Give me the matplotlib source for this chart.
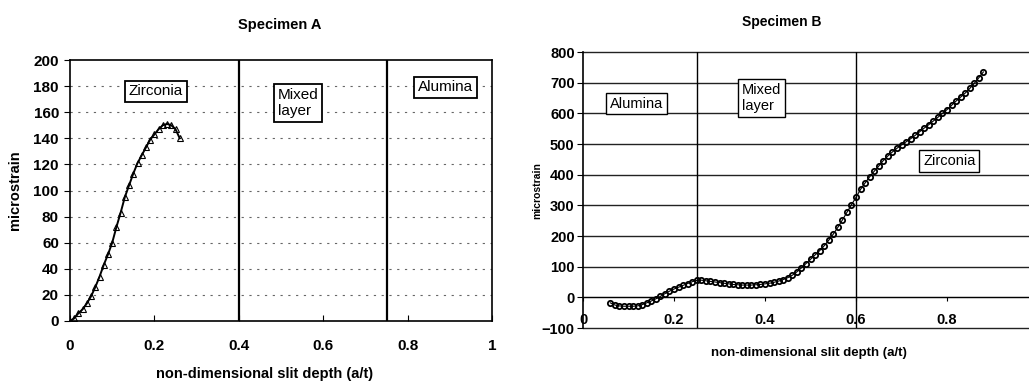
import matplotlib
matplotlib.use("Agg")
import matplotlib.pyplot as plt

plt.rcParams['font.family'] = ['Liberation Sans', 'DejaVu Sans']

# Specimen A: slit depth vs microstrain
depth_a = [0.00, 0.01, 0.02, 0.03, 0.04, 0.05, 0.06, 0.07, 0.08, 0.09, 0.10,
           0.11, 0.12, 0.13, 0.14, 0.15, 0.16, 0.17, 0.18, 0.19, 0.20, 0.21,
           0.22, 0.23, 0.24, 0.25, 0.26]
strain_a = [0, 2, 6, 9, 13.5, 19, 26, 34, 43, 51, 60, 72, 83, 95, 104, 113,
            121, 127, 133, 139, 143, 147, 150, 151, 150, 147, 140]

# Specimen B
depth_b = [0.06, 0.07, 0.08, 0.09, 0.10, 0.11, 0.12, 0.13, 0.14, 0.15, 0.16,
           0.17, 0.18, 0.19, 0.20, 0.21, 0.22, 0.23, 0.24, 0.25, 0.26, 0.27,
           0.28, 0.29, 0.30, 0.31, 0.32, 0.33, 0.34, 0.35, 0.36, 0.37, 0.38,
           0.39, 0.40, 0.41, 0.42, 0.43, 0.44, 0.45, 0.46, 0.47, 0.48, 0.49,
           0.50, 0.51, 0.52, 0.53, 0.54, 0.55, 0.56, 0.57, 0.58, 0.59, 0.60,
           0.61, 0.62, 0.63, 0.64, 0.65, 0.66, 0.67, 0.68, 0.69, 0.70, 0.71,
           0.72, 0.73, 0.74, 0.75, 0.76, 0.77, 0.78, 0.79, 0.80, 0.81, 0.82,
           0.83, 0.84, 0.85, 0.86, 0.87, 0.88]
strain_b = [-18, -25, -28, -29, -29, -29, -28, -24, -18, -12, -5,
            3, 12, 20, 27, 33, 39, 45, 51, 55, 56, 54,
            52, 50, 48, 46, 44, 42, 41, 40, 40, 40, 41,
            42, 44, 46, 49, 53, 58, 64, 72, 83, 96, 110,
            124, 138, 152, 168, 186, 206, 228, 252, 277, 302, 326,
            352, 373, 393, 411, 428, 446, 461, 474, 486, 497, 507,
            517, 528, 540, 552, 563, 575, 587, 600, 612, 626, 640,
            653, 666, 681, 698, 716, 735]

layers_a = [0.4, 0.75]
layers_b = [0.25, 0.6]
labels_a = [("Zirconia", 0.203, 176), ("Mixed\nlayer", 0.54, 167), ("Alumina", 0.89, 179)]
labels_b = [("Alumina", 0.118, 632), ("Mixed\nlayer", 0.392, 650), ("Zirconia", 0.805, 445)]

W, H = 1029, 384
fig = plt.figure(figsize=(W / 100, H / 100), dpi=100)

# ---- left panel ----
ax1 = fig.add_axes([70 / W, (H - 321) / H, 422 / W, 261 / H])
ax1.plot(depth_a, strain_a, color='black', lw=1.4, marker='^', ms=4.5,
         mfc='none', mec='black', mew=0.8)
ax1.set_xlim(0, 1)
ax1.set_ylim(0, 200)
ax1.set_xticks([0, 0.2, 0.4, 0.6, 0.8, 1])
ax1.set_xticklabels(['0', '0.2', '0.4', '0.6', '0.8', '1'])
ax1.set_yticks(range(0, 201, 20))
for v in range(20, 200, 20):
    ax1.axhline(v, color='#666666', lw=0.8, ls=(0, (2, 5)), zorder=0)
for x in layers_a:
    ax1.axvline(x, color='black', lw=1.6)
ax1.tick_params(axis='x', direction='in', length=4, pad=13, labelsize=11)
ax1.tick_params(axis='y', direction='out', length=4, pad=4, labelsize=11)
for lbl in ax1.get_xticklabels() + ax1.get_yticklabels():
    lbl.set_fontweight('bold')
for s in ax1.spines.values():
    s.set_linewidth(1.2)
for txt, x, y in labels_a:
    ax1.text(x, y, txt, ha='center', va='center', fontsize=11,
             multialignment='left',
             bbox=dict(boxstyle='square,pad=0.25', fc='white', ec='black', lw=1.3))

fig.text(280 / W, 1 - 25 / H, "Specimen A", ha='center', va='center',
         fontsize=10.5, fontweight='bold')
fig.text(265 / W, 1 - 374 / H, "non-dimensional slit depth (a/t)", ha='center',
         va='center', fontsize=10.5, fontweight='bold')
fig.text(15 / W, 1 - 190 / H, "microstrain", ha='center', va='center',
         rotation=90, fontsize=10.5, fontweight='bold')

# ---- right panel ----
ax2 = fig.add_axes([583 / W, (H - 328) / H, (W - 583) / W, 276 / H])
ax2.plot(depth_b, strain_b, color='black', lw=0.8, marker='o', ms=3.8,
         mfc='none', mec='black', mew=1.3, ls='-')
ax2.set_xlim(0, (W - 583) / 455)
ax2.set_ylim(-100, 800)
ax2.set_yticks(range(-100, 801, 100))
ax2.set_xticks([0, 0.2, 0.4, 0.6, 0.8])
ax2.set_xticklabels(['0', '0.2', '0.4', '0.6', '0.8'])
for v in range(-100, 801, 100):
    ax2.axhline(v, color='#222222', lw=1.0, zorder=0, clip_on=False)
for x in layers_b:
    ax2.axvline(x, color='black', lw=1.0)
ax2.spines['bottom'].set_position(('data', 0))
ax2.spines['top'].set_visible(False)
ax2.spines['right'].set_visible(False)
ax2.spines['left'].set_linewidth(1.2)
ax2.tick_params(axis='x', direction='out', length=3, pad=8, labelsize=10.5)
ax2.tick_params(axis='y', direction='out', length=4, pad=2, labelsize=10.5)
for lbl in ax2.get_xticklabels() + ax2.get_yticklabels():
    lbl.set_fontweight('bold')
for txt, x, y in labels_b:
    ax2.text(x, y, txt, ha='center', va='center', fontsize=10.5,
             multialignment='left',
             bbox=dict(boxstyle='square,pad=0.25', fc='white', ec='black', lw=1.0))

fig.text(782 / W, 1 - 22 / H, "Specimen B", ha='center', va='center',
         fontsize=10, fontweight='bold')
fig.text(809 / W, 1 - 353 / H, "non-dimensional slit depth (a/t)", ha='center',
         va='center', fontsize=9.5, fontweight='bold')
fig.text(537 / W, 1 - 191 / H, "microstrain", ha='center', va='center',
         rotation=90, fontsize=7.5, fontweight='bold')

fig.savefig("out.png", dpi=100)
